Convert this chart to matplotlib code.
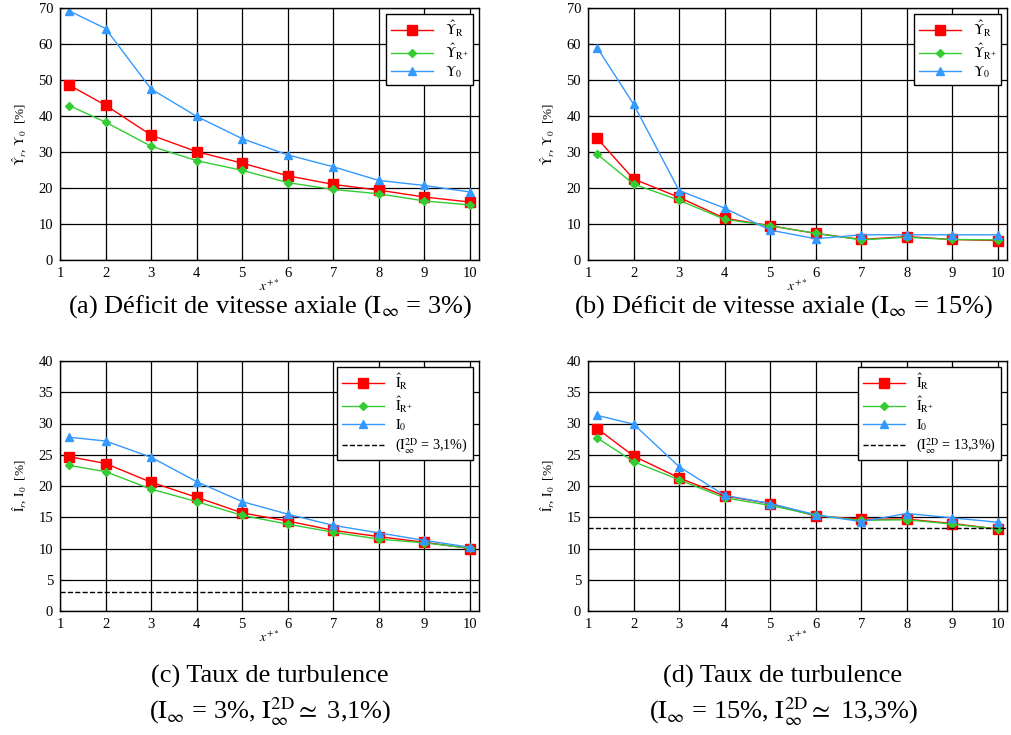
import matplotlib
matplotlib.use("Agg")
import matplotlib.pyplot as plt

plt.rcParams['font.family'] = ['Liberation Serif', 'DejaVu Serif']
plt.rcParams['mathtext.fontset'] = 'stix'

# ---------------- data ----------------
x_pos = [1.2, 2, 3, 4, 5, 6, 7, 8, 9, 10]

# (a) axial velocity deficit, I_inf = 3%
a_R = [48.6, 43.0, 34.7, 30.1, 26.9, 23.4, 21.0, 19.4, 17.5, 16.1]
a_Rp = [42.9, 38.3, 31.6, 27.6, 24.9, 21.5, 19.6, 18.4, 16.4, 15.3]
a_0 = [69.2, 64.3, 47.5, 39.9, 33.7, 29.2, 25.9, 22.1, 20.7, 18.9]

# (b) axial velocity deficit, I_inf = 15%
b_R = [33.8, 22.5, 17.4, 11.6, 9.5, 7.4, 5.7, 6.5, 5.7, 5.4]
b_Rp = [29.4, 21.1, 16.6, 11.3, 9.5, 7.4, 5.6, 6.3, 5.7, 5.6]
b_0 = [59.0, 43.3, 19.3, 14.4, 8.3, 5.9, 7.0, 7.0, 7.0, 7.0]

# (c) turbulence intensity, I_inf = 3%
c_R = [24.7, 23.6, 20.6, 18.2, 15.7, 14.4, 12.9, 11.9, 11.0, 10.0]
c_Rp = [23.3, 22.3, 19.5, 17.5, 15.3, 13.9, 12.6, 11.5, 10.9, 10.05]
c_0 = [27.8, 27.2, 24.6, 20.7, 17.5, 15.5, 13.7, 12.5, 11.3, 10.2]
c_ref = 3.1

# (d) turbulence intensity, I_inf = 15%
d_R = [29.2, 24.8, 21.3, 18.4, 17.2, 15.2, 14.7, 14.7, 14.0, 13.1]
d_Rp = [27.7, 23.9, 21.0, 18.1, 16.9, 15.3, 14.5, 14.6, 13.9, 13.1]
d_0 = [31.3, 29.9, 23.1, 18.5, 17.2, 15.4, 14.3, 15.6, 14.9, 14.2]
d_ref = 13.3

x_ticks = list(range(1, 11))

W, H = 1011, 735
fig = plt.figure(figsize=(W / 100, H / 100), dpi=100)


def px_axes(l, t, r, b):
    return fig.add_axes([l / W, 1 - b / H, (r - l) / W, (b - t) / H])


RED = '#ff0000'
GREEN = '#33cc33'
BLUE = '#3399ff'


def style(ax, ymax, ystep, ylabel):
    ax.set_xlim(1, 10.2)
    ax.set_ylim(0, ymax)
    ax.set_xticks(x_ticks)
    ax.set_yticks(list(range(0, ymax + 1, ystep)))
    ax.grid(True, color='black', linewidth=0.9)
    ax.set_axisbelow(True)
    ax.tick_params(direction='in', labelsize=10.5, length=3, color='black', pad=5)
    for s in ax.spines.values():
        s.set_color('black')
        s.set_linewidth(1.0)
    ax.set_xlabel(r'$x^{+*}$', fontsize=9.5, labelpad=-1)
    ax.set_ylabel(ylabel, fontsize=9.5, labelpad=7)


def series(ax, R, Rp, Z, labels):
    ax.plot(x_pos, R, color=RED, marker='s', markersize=6.5, linewidth=1.0, label=labels[0])
    ax.plot(x_pos, Rp, color=GREEN, marker='D', markersize=4.5, linewidth=1.0, label=labels[1])
    ax.plot(x_pos, Z, color=BLUE, marker='^', markersize=6, linewidth=1.0, label=labels[2])


ups_labels = [r'$\hat{\Upsilon}_{\mathrm{R}}$', r'$\hat{\Upsilon}_{\mathrm{R}^{+}}$', r'$\Upsilon_{0}$']
i_labels = [r'$\hat{\mathrm{I}}_{\mathrm{R}}$', r'$\hat{\mathrm{I}}_{\mathrm{R}^{+}}$', r'$\mathrm{I}_{0}$']
ups_ylabel = r'$\hat{\Upsilon}_r$, $\Upsilon_0$  [%]'
i_ylabel = r'$\hat{\mathrm{I}}_r$, $\mathrm{I}_0$  [%]'


def legend(ax):
    lg = ax.legend(loc='upper right', fontsize=10.2, frameon=True, fancybox=False,
                   edgecolor='black', framealpha=1, handlelength=3.0,
                   borderaxespad=0.4, labelspacing=0.2, borderpad=0.35)
    lg.get_frame().set_linewidth(1.0)


axA = px_axes(60, 8, 479, 260)
series(axA, a_R, a_Rp, a_0, ups_labels)
style(axA, 70, 10, ups_ylabel)
legend(axA)

axB = px_axes(588, 8, 1007, 260)
series(axB, b_R, b_Rp, b_0, ups_labels)
style(axB, 70, 10, ups_ylabel)
legend(axB)

axC = px_axes(60, 361, 479, 611)
series(axC, c_R, c_Rp, c_0, i_labels)
axC.axhline(c_ref, color='black', linestyle='--', linewidth=1.0,
            label=r'($\mathrm{I}_{\infty}^{\mathrm{2D}}$ = 3,1%)')
style(axC, 40, 5, i_ylabel)
legend(axC)

axD = px_axes(588, 361, 1007, 611)
series(axD, d_R, d_Rp, d_0, i_labels)
axD.axhline(d_ref, color='black', linestyle='--', linewidth=1.0,
            label=r'($\mathrm{I}_{\infty}^{\mathrm{2D}}$ = 13,3%)')
style(axD, 40, 5, i_ylabel)
legend(axD)

cap_fs = 19
fig.text(270 / W, 1 - 307 / H, r'(a) Déficit de vitesse axiale ($\mathrm{I}_{\infty}$ = 3%)',
         ha='center', va='center', fontsize=cap_fs)
fig.text(783 / W, 1 - 307 / H, r'(b) Déficit de vitesse axiale ($\mathrm{I}_{\infty}$ = 15%)',
         ha='center', va='center', fontsize=cap_fs)
fig.text(270 / W, 1 - 676 / H, '(c) Taux de turbulence', ha='center', va='center', fontsize=cap_fs)
fig.text(270 / W, 1 - 712 / H,
         r'($\mathrm{I}_{\infty}$ = 3%, $\mathrm{I}_{\infty}^{\mathrm{2D}} \simeq$ 3,1%)',
         ha='center', va='center', fontsize=cap_fs)
fig.text(783 / W, 1 - 676 / H, '(d) Taux de turbulence', ha='center', va='center', fontsize=cap_fs)
fig.text(783 / W, 1 - 712 / H,
         r'($\mathrm{I}_{\infty}$ = 15%, $\mathrm{I}_{\infty}^{\mathrm{2D}} \simeq$ 13,3%)',
         ha='center', va='center', fontsize=cap_fs)

fig.savefig('out.png', dpi=100)
